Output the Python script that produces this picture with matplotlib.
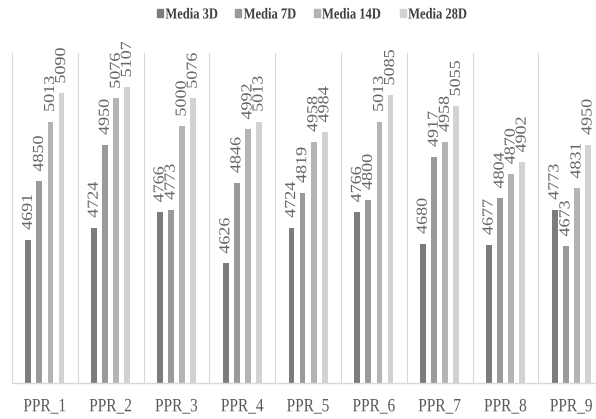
import numpy as np
import matplotlib.pyplot as plt
from matplotlib.patches import Patch
from matplotlib.patheffects import AbstractPathEffect
from matplotlib.transforms import Affine2D

groups = ['PPR_1', 'PPR_2', 'PPR_3', 'PPR_4', 'PPR_5', 'PPR_6', 'PPR_7', 'PPR_8', 'PPR_9']
series = ['Media 3D', 'Media 7D', 'Media 14D', 'Media 28D']
media_3d = [4691, 4724, 4766, 4626, 4724, 4766, 4680, 4677, 4773]
media_7d = [4850, 4950, 4773, 4846, 4819, 4800, 4917, 4804, 4673]
media_14d = [5013, 5076, 5000, 4992, 4958, 5013, 4958, 4870, 4831]
media_28d = [5090, 5107, 5076, 5013, 4984, 5085, 5055, 4902, 4950]
colors = ['#7c7c7c', '#9a9a9a', '#b4b4b4', '#d2d2d2']

SERIF = 'Liberation Serif'


class Squeeze(AbstractPathEffect):
    """Scale the glyph outlines of a text (condensed look) without moving its anchor."""

    def __init__(self, sx=1.0, sy=1.0, anchor='center'):
        super().__init__()
        self.sx, self.sy, self.anchor = sx, sy, anchor

    def draw_path(self, renderer, gc, tpath, affine, rgbFace=None):
        v = tpath.vertices
        if len(v):
            x0, x1 = v[:, 0].min(), v[:, 0].max()
            y0, y1 = v[:, 1].min(), v[:, 1].max()
            px = x0 if self.anchor == 'left' else (x0 + x1) / 2
            py = (y0 + y1) / 2
            affine = Affine2D().translate(-px, -py).scale(self.sx, self.sy).translate(px, py) + affine
        renderer.draw_path(gc, tpath, affine, rgbFace)


fig = plt.figure(figsize=(5.96, 4.19), dpi=100)
ax = fig.add_axes([12 / 596, 36 / 419, 592.2 / 596, 330 / 419])

x = np.arange(len(groups))
offsets = (np.arange(4) - 1.5) * 0.168
for vals, name, c, off in zip([media_3d, media_7d, media_14d, media_28d], series, colors, offsets):
    bars = ax.bar(x + off, vals, width=0.088, color=c, label=name, zorder=2)
    ax.bar_label(bars, padding=7, rotation=90, fontsize=13, family=SERIF,
                 color='#666666', path_effects=[Squeeze(sy=0.85)])

ax.set_xlim(-0.5, 8.5)
ax.set_ylim(4300, 5200)
ax.set_yticks([])

ax.set_xticks(x, groups)
ax.set_xticks(np.arange(-0.5, 9), minor=True)
ax.tick_params(axis='x', which='both', length=0)
ax.tick_params(axis='x', which='major', pad=11, labelsize=13.5, labelcolor='#595959')
for t in ax.get_xticklabels():
    t.set_fontfamily(SERIF)
    t.set_path_effects([Squeeze(sx=0.82)])

ax.grid(which='minor', axis='x', color='#d9d9d9', lw=0.8)
ax.set_axisbelow(True)
for side in ['top', 'left', 'right']:
    ax.spines[side].set_visible(False)
ax.spines['bottom'].set_color('#d9d9d9')
ax.spines['bottom'].set_linewidth(1.0)

handles = [Patch(color=c) for c in colors]
leg = fig.legend(handles, series, loc='center left', bbox_to_anchor=(157 / 596, 1 - 15 / 419),
                 ncol=4, frameon=False, handlelength=0.4, handleheight=0.4,
                 handletextpad=0.15, columnspacing=0.4, borderpad=0, borderaxespad=0,
                 prop={'family': SERIF, 'weight': 'bold', 'size': 11})
for t in leg.get_texts():
    t.set_color('#404040')
    t.set_path_effects([Squeeze(sx=0.82, anchor='left')])

fig.savefig('out.png', dpi=100)
